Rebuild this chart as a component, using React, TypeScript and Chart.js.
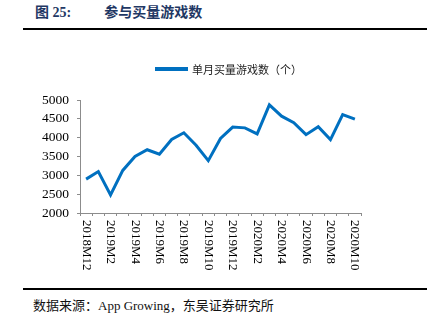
import React, { useEffect, useRef } from 'react';
import { Chart, registerables } from 'chart.js';

Chart.register(...registerables);

const categories = [
  '2018M12', '2019M1', '2019M2', '2019M3', '2019M4', '2019M5', '2019M6', '2019M7',
  '2019M8', '2019M9', '2019M10', '2019M11', '2019M12', '2020M1', '2020M2', '2020M3',
  '2020M4', '2020M5', '2020M6', '2020M7', '2020M8', '2020M9', '2020M10',
];
const gameCounts = [
  2900, 3100, 2480, 3130, 3500, 3680, 3560, 3950,
  4130, 3800, 3390, 3980, 4280, 4260, 4100, 4870,
  4570, 4400, 4080, 4290, 3950, 4610, 4490,
];
const seriesLabel = '单月买量游戏数（个）';
const yMin = 2000;
const yMax = 5000;
const yStep = 500;

const lineColor = '#0070C0';
const axisColor = '#8c8c8c';

const lineLegend = {
  id: 'lineLegend',
  afterDraw(chart: any) {
    const ctx = chart.ctx;
    const ds = chart.data.datasets[0];
    ctx.save();
    ctx.font = '11px "Noto Sans CJK SC"';
    const tw = ctx.measureText(ds.label).width;
    const lineW = 33;
    const gap = 4;
    const total = lineW + gap + tw;
    const cx = (chart.chartArea.left + chart.chartArea.right) / 2 + 8;
    const x0 = cx - total / 2;
    const y = 29;
    ctx.fillStyle = ds.borderColor;
    ctx.fillRect(x0, y - 2, lineW, 4);
    ctx.fillStyle = '#222';
    ctx.textBaseline = 'middle';
    ctx.textAlign = 'left';
    ctx.fillText(ds.label, x0 + lineW + gap, y + 0.5);
    ctx.restore();
  },
};

const verticalXLabels = {
  id: 'verticalXLabels',
  afterDraw(chart: any) {
    const xs = chart.scales.x;
    const ctx = chart.ctx;
    ctx.save();
    ctx.font = '13px "Liberation Serif"';
    ctx.fillStyle = '#000';
    ctx.textAlign = 'left';
    ctx.textBaseline = 'middle';
    (chart.data.labels as string[]).forEach((lab, i) => {
      if (i % 2) return;
      const x = xs.getPixelForValue(i);
      ctx.save();
      ctx.translate(x, chart.chartArea.bottom + 7);
      ctx.rotate(Math.PI / 2);
      ctx.fillText(lab, 0, 0);
      ctx.restore();
    });
    ctx.restore();
  },
};

export default function App() {
  const ref = useRef<HTMLCanvasElement | null>(null);

  useEffect(() => {
    if (!ref.current) return;
    const chart = new Chart(ref.current, {
      type: 'line',
      data: {
        labels: categories,
        datasets: [
          {
            label: seriesLabel,
            data: gameCounts,
            borderColor: lineColor,
            backgroundColor: lineColor,
            borderWidth: 3,
            pointRadius: 0,
            tension: 0,
          },
        ],
      },
      options: {
        animation: false,
        responsive: false,
        maintainAspectRatio: false,
        layout: { padding: { top: 60, right: 66, bottom: 12, left: 0 } },
        plugins: {
          legend: { display: false },
          tooltip: { enabled: false },
        },
        scales: {
          x: {
            type: 'category',
            offset: true,
            grid: {
              offset: true,
              drawOnChartArea: false,
              drawTicks: true,
              tickLength: 3,
              color: axisColor,
            },
            border: { display: true, color: axisColor, width: 1 },
            ticks: { display: false, autoSkip: false },
            afterFit: (s: any) => {
              s.height = 60;
            },
          },
          y: {
            min: yMin,
            max: yMax,
            grid: {
              drawOnChartArea: false,
              drawTicks: true,
              tickLength: 3,
              color: axisColor,
            },
            border: { display: true, color: axisColor, width: 1 },
            ticks: {
              stepSize: yStep,
              autoSkip: false,
              color: '#000',
              padding: 8,
              font: { family: '"Liberation Serif"', size: 13.5 },
              callback: (v: any) => String(v),
            },
            afterFit: (s: any) => {
              s.width = 57;
            },
          },
        },
      },
      plugins: [lineLegend, verticalXLabels],
    });
    return () => chart.destroy();
  }, []);

  return (
    <div
      style={{
        position: 'fixed',
        left: 0,
        top: 0,
        width: 432,
        height: 328,
        background: '#fff',
        overflow: 'hidden',
      }}
    >
      <div
        style={{
          position: 'absolute',
          left: 35,
          top: 3,
          fontFamily: '"Liberation Serif", "Noto Sans CJK SC"',
          fontWeight: 'bold',
          fontSize: 14,
          color: '#1F3864',
          whiteSpace: 'nowrap',
          lineHeight: '20px',
        }}
      >
        <span>图 25:</span>
        <span style={{ marginLeft: 33 }}>参与买量游戏数</span>
      </div>
      <div
        style={{
          position: 'absolute',
          left: 23,
          top: 28,
          width: 404,
          height: 2,
          background: '#000',
        }}
      />
      <canvas
        ref={ref}
        width={404}
        height={245}
        style={{ position: 'absolute', left: 23, top: 40, width: 404, height: 245 }}
      />
      <div
        style={{
          position: 'absolute',
          left: 23,
          top: 288,
          width: 404,
          height: 2,
          background: '#000',
        }}
      />
      <div
        style={{
          position: 'absolute',
          left: 33,
          top: 297,
          fontFamily: '"Liberation Serif", "Noto Sans CJK SC"',
          fontSize: 13,
          color: '#111',
          whiteSpace: 'nowrap',
          lineHeight: '18px',
        }}
      >
        数据来源：App Growing，东吴证券研究所
      </div>
    </div>
  );
}
